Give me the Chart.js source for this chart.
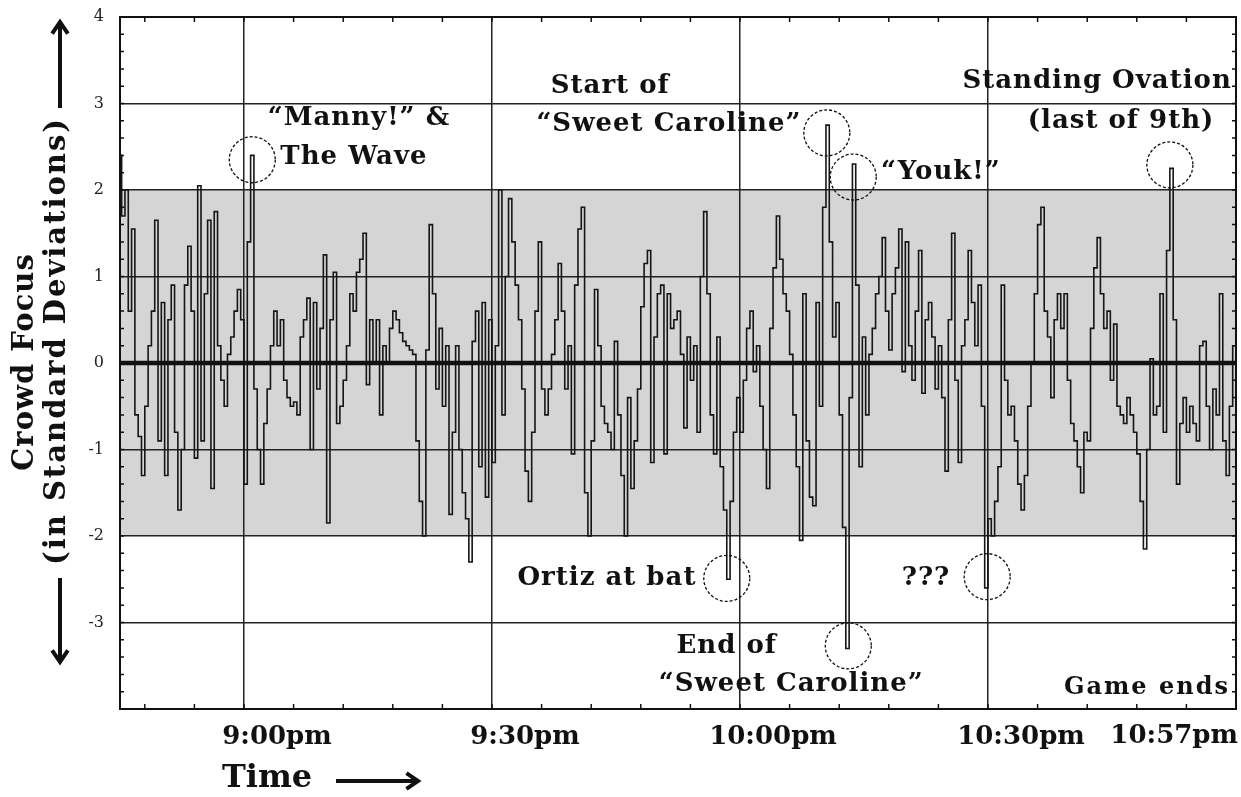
<!DOCTYPE html>
<html>
<head>
<meta charset="utf-8">
<script src="https://cdn.jsdelivr.net/npm/chart.js@4.4.1/dist/chart.umd.min.js"></script>
<style>
  html, body { margin: 0; padding: 0; background: #fff; }
  #wrap { width: 1241px; height: 797px; position: relative; }
</style>
</head>
<body>
<div id="wrap"><canvas id="chartFocus"></canvas></div>
<script>
// minutes after 8:45pm, one sample every 0.4 min (24 s)
let sampleStep = 0.4;

// crowd focus (standard deviations), one row = 6 minutes
let focus = [
  2.4, 1.7, 2.0, 0.6, 1.55, -0.6, -0.85, -1.3, -0.5, 0.2, 0.6, 1.65, -0.9, 0.7, -1.3,
  0.5, 0.9, -0.8, -1.7, -1.0, 0.9, 1.35, 0.6, -1.1, 2.05, -0.9, 0.8, 1.65, -1.45, 1.75,
  0.2, -0.2, -0.5, 0.1, 0.3, 0.6, 0.85, 0.5, -1.4, 1.4, 2.4, -0.3, -1.0, -1.4, -0.7,
  -0.3, 0.2, 0.6, 0.2, 0.5, -0.2, -0.4, -0.5, -0.45, -0.6, 0.3, 0.5, 0.75, -1.0, 0.7,
  -0.3, 0.4, 1.25, -1.85, 0.5, 1.05, -0.7, -0.5, -0.2, 0.2, 0.8, 0.6, 1.05, 1.2, 1.5,
  -0.25, 0.5, 0.0, 0.5, -0.6, 0.2, 0.0, 0.4, 0.6, 0.5, 0.35, 0.25, 0.2, 0.15, 0.1,
  -0.9, -1.6, -2.0, 0.15, 1.6, 0.8, -0.3, 0.4, -0.5, 0.2, -1.75, -0.8, 0.2, -1.0, -1.5,
  -1.8, -2.3, 0.25, 0.6, -1.2, 0.7, -1.55, 0.5, -1.15, 0.2, 2.0, -0.6, 1.0, 1.9, 1.4,
  0.9, 0.5, -0.3, -1.25, -1.6, -0.8, 0.6, 1.4, -0.3, -0.6, -0.3, 0.1, 0.5, 1.15, 0.6,
  -0.3, 0.2, -1.05, 0.9, 1.55, 1.8, -1.5, -2.0, -0.9, 0.85, 0.2, -0.5, -0.7, -0.8, -1.0,
  0.25, -0.6, -1.3, -2.0, -0.4, -1.45, -0.9, -0.3, 0.65, 1.15, 1.3, -1.15, 0.3, 0.8, 0.9,
  -1.05, 0.8, 0.4, 0.5, 0.6, 0.1, -0.75, 0.3, -0.2, 0.2, -0.8, 1.0, 1.75, 0.8, -0.6,
  -1.05, 0.3, -1.2, -1.7, -2.5, -1.6, -0.8, -0.4, -0.8, -0.2, 0.4, 0.6, -0.1, 0.2, -0.5,
  -1.0, -1.45, 0.4, 1.1, 1.7, 1.2, 0.8, 0.6, 0.1, -0.6, -1.2, -2.05, 0.8, -0.9, -1.55,
  -1.65, 0.7, -0.5, 1.8, 2.75, 1.4, 0.3, 0.7, -0.6, -1.9, -3.3, -0.4, 2.3, 0.9, -1.2,
  0.3, -0.6, 0.1, 0.4, 0.8, 1.0, 1.45, 0.6, 0.15, 0.8, 1.1, 1.55, -0.1, 1.4, 0.2,
  -0.2, 0.6, 1.3, -0.35, 0.5, 0.7, 0.3, -0.3, 0.2, -0.4, -1.25, 0.5, 1.5, -0.2, -1.15,
  0.2, 0.5, 1.3, 0.7, 0.2, 0.9, -0.5, -2.6, -1.8, -2.0, -1.6, -1.2, 0.9, -0.2, -0.6,
  -0.5, -0.9, -1.4, -1.7, -1.3, -0.5, 0.0, 0.8, 1.6, 1.8, 0.6, 0.3, -0.4, 0.5, 0.8,
  0.4, 0.8, -0.2, -0.7, -0.9, -1.2, -1.5, -0.8, -0.9, 0.4, 1.1, 1.45, 0.8, 0.4, 0.6,
  -0.2, 0.45, -0.5, -0.6, -0.7, -0.4, -0.6, -0.8, -1.05, -1.6, -2.15, -1.0, 0.05, -0.6, -0.5,
  0.8, -0.8, 1.3, 2.25, 0.5, -1.4, -0.7, -0.4, -0.8, -0.5, -0.7, -0.9, 0.2, 0.25, -0.5,
  -1.0, -0.3, -0.6, 0.8, -0.9, -1.3, -0.5, 0.2,
];

let timeLabels = ["9:00pm", "9:30pm", "10:00pm", "10:30pm"];
let timeLabelMinutes = [15, 45, 75, 105];
let endLabel = "10:57pm";
let focusTicks = [4, 3, 2, 1, 0, -1, -2, -3];

// callouts: [text, minute, focus]
let notes = [
  ["\u201cManny!\u201d &", 28.9, 2.83],
  ["The Wave", 28.3, 2.38],
  ["Start of", 59.3, 3.2],
  ["\u201cSweet Caroline\u201d", 66.4, 2.76],
  ["\u201cYouk!\u201d", 99.3, 2.2],
  ["Standing Ovation", 118.2, 3.26],
  ["(last of 9th)", 121.1, 2.8],
  ["Ortiz at bat", 58.9, -2.49],
  ["???", 97.5, -2.49],
  ["End of", 73.4, -3.28],
  ["\u201cSweet Caroline\u201d", 81.2, -3.71],
];
let circles = [
  [16.0, 2.35], [85.5, 2.66], [88.7, 2.15], [127.0, 2.29],
  [73.4, -2.49], [88.1, -3.27], [104.9, -2.47],
];

let points = focus.map((v, i) => ({ x: +(i * sampleStep).toFixed(1), y: v }));

let minorX = [];
for (let m = 3; m < 135; m += 6) minorX.push(m);

const serif = "'DejaVu Serif', 'Liberation Serif', serif";

function arrow(ctx, x1, y1, x2, y2) {
  let a = Math.atan2(y2 - y1, x2 - x1);
  ctx.beginPath();
  ctx.moveTo(x1, y1);
  ctx.lineTo(x2, y2);
  ctx.moveTo(x2 - 14 * Math.cos(a - 0.6), y2 - 14 * Math.sin(a - 0.6));
  ctx.lineTo(x2, y2);
  ctx.lineTo(x2 - 14 * Math.cos(a + 0.6), y2 - 14 * Math.sin(a + 0.6));
  ctx.stroke();
}

const decor = {
  id: "decor",
  beforeDraw(chart) {
    let { ctx, chartArea: ca, scales } = chart;
    ctx.save();
    ctx.fillStyle = "#fff";
    ctx.fillRect(0, 0, chart.width, chart.height);
    let y2 = scales.y.getPixelForValue(2);
    let ym2 = scales.y.getPixelForValue(-2);
    ctx.fillStyle = "#d5d5d5";
    ctx.fillRect(ca.left, y2, ca.right - ca.left, ym2 - y2);
    ctx.restore();
  },
  afterDatasetsDraw(chart) {
    let { ctx, chartArea: ca, scales } = chart;
    let sx = scales.x, sy = scales.y;
    ctx.save();
    ctx.strokeStyle = "#111";

    // zero line
    ctx.lineWidth = 4.5;
    ctx.beginPath();
    ctx.moveTo(ca.left, sy.getPixelForValue(0));
    ctx.lineTo(ca.right, sy.getPixelForValue(0));
    ctx.stroke();

    // frame and inward ticks
    ctx.lineWidth = 2;
    ctx.strokeRect(ca.left, ca.top, ca.right - ca.left, ca.bottom - ca.top);
    ctx.lineWidth = 1.5;
    ctx.beginPath();
    minorX.forEach((m) => {
      let px = sx.getPixelForValue(m);
      ctx.moveTo(px, ca.top); ctx.lineTo(px, ca.top + 5);
      ctx.moveTo(px, ca.bottom); ctx.lineTo(px, ca.bottom - 5);
    });
    for (let v = -3.8; v < 4; v += 0.2) {
      let py = sy.getPixelForValue(v);
      ctx.moveTo(ca.left, py); ctx.lineTo(ca.left + 4, py);
      ctx.moveTo(ca.right, py); ctx.lineTo(ca.right - 4, py);
    }
    ctx.stroke();

    // dashed circles
    ctx.lineWidth = 1.3;
    ctx.setLineDash([3, 2]);
    circles.forEach(([m, v]) => {
      ctx.beginPath();
      ctx.arc(sx.getPixelForValue(m), sy.getPixelForValue(v), 23, 0, Math.PI * 2);
      ctx.stroke();
    });
    ctx.setLineDash([]);

    // callout texts
    ctx.fillStyle = "#111";
    ctx.textAlign = "center";
    ctx.textBaseline = "middle";
    ctx.font = "bold 26px " + serif;
    ctx.letterSpacing = "1px";
    notes.forEach(([t, m, v]) => {
      ctx.fillText(t, sx.getPixelForValue(m), sy.getPixelForValue(v));
    });
    ctx.font = "bold 24px " + serif;
    ctx.letterSpacing = "2px";
    ctx.textAlign = "right";
    ctx.fillText("Game ends", ca.right - 6, sy.getPixelForValue(-3.76));

    // last time label
    ctx.font = "bold 26px " + serif;
    ctx.letterSpacing = "0px";
    ctx.fillText(endLabel, ca.right + 2, 736);

    // axis titles
    ctx.textAlign = "center";
    ctx.font = "bold 29px " + serif;
    ctx.save();
    ctx.translate(25, 362);
    ctx.rotate(-Math.PI / 2);
    ctx.letterSpacing = "1px";
    ctx.fillText("Crowd Focus", 0, 0);
    ctx.restore();
    ctx.save();
    ctx.translate(57, 341);
    ctx.rotate(-Math.PI / 2);
    ctx.letterSpacing = "2px";
    ctx.fillText("(in Standard Deviations)", 0, 0);
    ctx.restore();
    ctx.font = "bold 32px " + serif;
    ctx.fillText("Time", 267, 779);

    ctx.lineWidth = 4;
    arrow(ctx, 60, 108, 60, 22);
    arrow(ctx, 60, 578, 60, 662);
    arrow(ctx, 336, 781, 418, 781);
    ctx.restore();
  },
};

let chartFocus = new Chart("chartFocus", {
  type: "line",
  data: {
    datasets: [
      {
        data: points,
        borderColor: "#151515",
        borderWidth: 1.6,
        pointRadius: 0,
        stepped: "middle",
        fill: false,
      },
    ],
  },
  options: {
    responsive: true,
    maintainAspectRatio: false,
    animation: false,
    layout: { padding: { top: 17, right: 5, left: 0, bottom: 0 } },
    plugins: { legend: { display: false }, tooltip: { enabled: false } },
    scales: {
      x: {
        type: "linear",
        min: 0,
        max: 135,
        afterBuildTicks: (scale) => {
          scale.ticks = minorX.map((m) => ({ value: m }));
        },
        afterFit: (scale) => {
          scale.height = 88;
          scale.paddingLeft = 0;
          scale.paddingRight = 0;
        },
        border: { display: false },
        grid: {
          drawTicks: false,
          lineWidth: 1.5,
          color: (c) => timeLabelMinutes.includes(c.tick.value) ? "#222" : "rgba(0,0,0,0)",
        },
        ticks: {
          autoSkip: false,
          maxRotation: 0,
          padding: 13,
          labelOffset: 33,
          color: "#111",
          font: { family: serif, size: 26, weight: "bold" },
          callback: (v) => {
            let i = timeLabelMinutes.indexOf(v);
            return i >= 0 ? timeLabels[i] : "";
          },
        },
      },
      y: {
        min: -4,
        max: 4,
        afterBuildTicks: (scale) => {
          scale.ticks = focusTicks.map((v) => ({ value: v }));
        },
        afterFit: (scale) => {
          scale.width = 120;
          scale.paddingTop = 0;
          scale.paddingBottom = 0;
        },
        border: { display: false },
        grid: { drawTicks: false, lineWidth: 1.5, color: "#222" },
        ticks: {
          padding: 16,
          color: "#222",
          font: { family: serif, size: 16 },
        },
      },
    },
  },
  plugins: [decor],
});
</script>
</body>
</html>
